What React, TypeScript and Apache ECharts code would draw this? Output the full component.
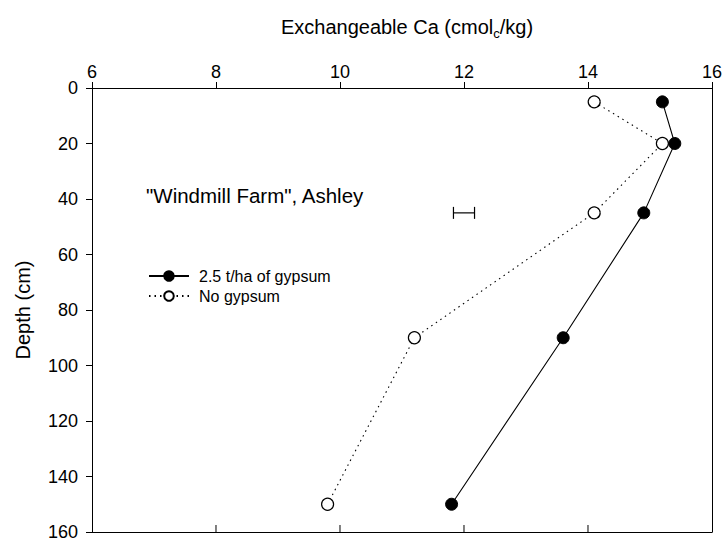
import React, { useEffect, useRef } from "react";
import * as echarts from "echarts";

const depths = [5, 20, 45, 90, 150];
const gypsumCa = [15.2, 15.4, 14.9, 13.6, 11.8];
const noGypsumCa = [14.1, 15.2, 14.1, 11.2, 9.8];
const lsdBar = [[12.0, 45, 0.17]]; // x centre, depth, half-width
const xTicks = [6, 8, 10, 12, 14, 16];
const yTicks = [0, 20, 40, 60, 80, 100, 120, 140, 160];

const FONT = "Liberation Sans, Arial, sans-serif";

export default function App() {
  const ref = useRef<HTMLDivElement>(null);
  useEffect(() => {
    const chart = echarts.init(ref.current!, null, { renderer: "svg" });
    const yMax = yTicks[yTicks.length - 1];
    chart.setOption({
      animation: false,
      backgroundColor: "#fff",
      textStyle: { fontFamily: FONT },
      grid: { left: 92, right: 11, top: 88, bottom: 5, containLabel: false },
      title: {
        text: "{a|Exchangeable Ca (cmol}{s|c}{a|/kg)}",
        left: 402,
        top: 8,
        textAlign: "center",
        textStyle: {
          fontWeight: "normal",
          rich: {
            a: { fontSize: 20, fontFamily: FONT, color: "#000", fontWeight: "normal" },
            s: { fontSize: 13, fontFamily: FONT, color: "#000", fontWeight: "normal", padding: [14, 0, 0, 0] },
          },
        },
      },
      legend: {
        orient: "vertical",
        left: 143,
        top: 263,
        itemWidth: 40,
        itemHeight: 12,
        itemGap: 4,
        textStyle: { fontSize: 16, lineHeight: 16, fontFamily: FONT, color: "#000", padding: [0, 0, 0, 5] },
        data: ["2.5 t/ha of gypsum", "No gypsum"],
      },
      graphic: [
        {
          type: "text",
          left: 146,
          top: 185,
          style: { text: "\"Windmill Farm\", Ashley", fontSize: 20.5, fontFamily: FONT, fill: "#000" },
        },
      ],
      xAxis: [
        {
          type: "value",
          position: "top",
          min: xTicks[0],
          max: xTicks[xTicks.length - 1],
          interval: 2,
          axisLine: { show: true, onZero: false, lineStyle: { color: "#000", width: 1 } },
          axisTick: { show: true, inside: false, length: 6, lineStyle: { color: "#000" } },
          axisLabel: { fontSize: 18, color: "#000", fontFamily: FONT, margin: 7 },
          splitLine: { show: false },
        },
        {
          type: "value",
          position: "bottom",
          min: xTicks[0],
          max: xTicks[xTicks.length - 1],
          interval: 2,
          axisLine: { show: true, onZero: false, lineStyle: { color: "#000", width: 1 } },
          axisTick: { show: false },
          axisLabel: { show: false },
          splitLine: { show: false },
        },
      ],
      yAxis: [
        {
          type: "value",
          inverse: true,
          min: yTicks[0],
          max: yMax,
          interval: 20,
          name: "Depth (cm)",
          nameLocation: "middle",
          nameGap: 59,
          nameRotate: 90,
          nameTextStyle: { fontSize: 20, color: "#000", fontFamily: FONT },
          axisLine: { show: true, onZero: false, lineStyle: { color: "#000", width: 1 } },
          axisTick: { show: true, inside: false, length: 6, lineStyle: { color: "#000" } },
          axisLabel: { fontSize: 18, color: "#000", fontFamily: FONT, margin: 14 },
          splitLine: { show: false },
        },
        {
          type: "value",
          position: "right",
          inverse: true,
          min: yTicks[0],
          max: yMax,
          interval: 20,
          axisLine: { show: true, onZero: false, lineStyle: { color: "#000", width: 1 } },
          axisTick: { show: false },
          axisLabel: { show: false },
          splitLine: { show: false },
        },
      ],
      series: [
        {
          name: "No gypsum",
          type: "line",
          data: depths.map((d, i) => [noGypsumCa[i], d]),
          symbol: "circle",
          symbolSize: 12,
          lineStyle: { color: "#000", width: 1.1, type: [1.5, 4] },
          itemStyle: { color: "#fff", borderColor: "#000", borderWidth: 1.2 },
          z: 3,
        },
        {
          name: "2.5 t/ha of gypsum",
          type: "line",
          data: depths.map((d, i) => [gypsumCa[i], d]),
          symbol: "circle",
          symbolSize: 12,
          lineStyle: { color: "#000", width: 1.1, type: "solid" },
          itemStyle: { color: "#000", borderColor: "#000", borderWidth: 1 },
          z: 4,
        },
        {
          type: "custom",
          data: lsdBar,
          renderItem: (params: any, api: any) => {
            const c = api.value(0);
            const d = api.value(1);
            const h = api.value(2);
            const p1 = api.coord([c - h, d]);
            const p2 = api.coord([c + h, d]);
            const style = { stroke: "#000", lineWidth: 1.2 };
            return {
              type: "group",
              children: [
                { type: "line", shape: { x1: p1[0], y1: p1[1], x2: p2[0], y2: p2[1] }, style },
                { type: "line", shape: { x1: p1[0], y1: p1[1] - 6, x2: p1[0], y2: p1[1] + 6 }, style },
                { type: "line", shape: { x1: p2[0], y1: p2[1] - 6, x2: p2[0], y2: p2[1] + 6 }, style },
              ],
            };
          },
          z: 2,
        },
        {
          // inward ticks on the bottom frame
          type: "custom",
          data: xTicks.slice(1, -1).map((x) => [x, yMax]),
          silent: true,
          renderItem: (params: any, api: any) => {
            const p = api.coord([api.value(0), api.value(1)]);
            return {
              type: "line",
              shape: { x1: p[0], y1: p[1], x2: p[0], y2: p[1] - 7 },
              style: { stroke: "#000", lineWidth: 1 },
            };
          },
          z: 2,
        },
      ],
    });
    return () => chart.dispose();
  }, []);
  return <div ref={ref} style={{ width: 725, height: 541, position: "absolute", left: 0, top: 0 }} />;
}
